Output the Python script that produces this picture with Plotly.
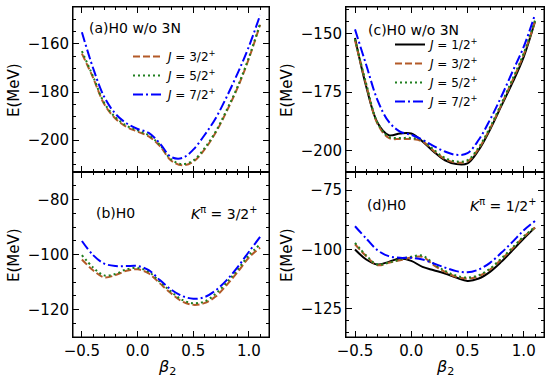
import plotly.graph_objects as go

beta = [-0.5, -0.4, -0.3, -0.2, -0.1, 0.0, 0.1, 0.2, 0.3, 0.4, 0.5, 0.6, 0.7, 0.8, 0.9, 1.0, 1.1]

# (a) H0 w/o 3N, K=3/2+
a_J32 = [-164, -174, -185, -191, -194.5, -196.5, -198.5, -202.5, -208.5, -210.5, -209, -204, -197, -188, -178, -166, -152]
a_J52 = [-163, -173.5, -184.5, -190.5, -194, -196, -198, -202, -208, -210, -208.5, -203.5, -196.5, -187.5, -177.5, -165.5, -151.5]
a_J72 = [-155.1, -170, -182, -189, -193, -195.4, -197, -201.4, -207, -207.5, -204, -198, -191, -182, -172, -161, -148]

# (b) H0, K=3/2+
b_J32 = [-101.8, -105.7, -108.3, -107.5, -105.9, -105.4, -106.9, -110.5, -114.1, -117.1, -118.3, -117.7, -115.3, -111.1, -106.3, -101.1, -97.5]
b_J52 = [-100.2, -104.7, -107.6, -107.1, -105.4, -104.9, -106.3, -109.9, -113.5, -116.5, -117.7, -117.1, -114.3, -110.2, -105.4, -100.2, -96.3]
b_J72 = [-95.1, -100.2, -103.3, -104.2, -104.2, -104.2, -105.7, -109.3, -112.7, -115.1, -116.1, -115.5, -113.1, -109.3, -104.5, -99.0, -93.6]

# (c) H0 w/o 3N, K=1/2+
c_J12 = [-152, -172.7, -188, -193.3, -192.6, -192.6, -196, -200.4, -204, -205.6, -205.3, -199.6, -191, -181, -171, -160, -145]
c_J32 = [-153, -172, -188.5, -194.5, -195, -195, -196, -200, -203.5, -205, -204.5, -199, -190.5, -180.5, -170, -159, -145]
c_J52 = [-152.5, -171.5, -188, -194, -194.5, -194.5, -195.5, -199.5, -203, -204.5, -204, -198.5, -190, -180, -169.5, -158.5, -144.5]
c_J72 = [-148.3, -163.5, -178.4, -187.6, -191.8, -193.2, -195.3, -198, -200.3, -201.7, -201, -195.3, -186.8, -177, -166.3, -155.7, -142]

# (d) H0, K=1/2+
d_J12 = [-100, -104.2, -106.3, -105.2, -103.8, -104.8, -107.3, -108.7, -110.1, -111.8, -113.2, -112.2, -109.4, -105.2, -100.3, -95.4, -90.8]
d_J32 = [-97.8, -102.8, -106.6, -105.6, -104.5, -103.4, -103.1, -106.6, -109.4, -111.5, -112.2, -111.2, -108.4, -104.2, -99.6, -94.7, -90.8]
d_J52 = [-97.2, -102.5, -106.3, -105.5, -104.2, -103.0, -102.6, -106.0, -109.0, -111.0, -111.8, -110.8, -108.0, -103.8, -99.2, -94.5, -90.5]
d_J72 = [-90.2, -95.4, -100.3, -102.8, -103.5, -103.5, -104.2, -105.9, -107.6, -109.1, -109.6, -108.4, -105.6, -101.4, -96.8, -91.9, -88.0]

labels = {"12": "<i>J</i> = 1/2<sup>+</sup>", "32": "<i>J</i> = 3/2<sup>+</sup>",
          "52": "<i>J</i> = 5/2<sup>+</sup>", "72": "<i>J</i> = 7/2<sup>+</sup>"}
styles = {"12": dict(color="black", dash="solid"),
          "32": dict(color="#b35a28", dash="7px,3px"),
          "52": dict(color="#1f7f1f", dash="2px,3px"),
          "72": dict(color="#0000ff", dash="10px,3px,2px,3px")}

FONT = "DejaVu Sans"
fig = go.Figure()

def add(y, key, xa, ya, legend=None):
    fig.add_trace(go.Scatter(
        x=beta, y=y, mode="lines", name=labels[key],
        line=dict(width=2, shape="spline", **styles[key]),
        xaxis=xa, yaxis=ya, showlegend=legend is not None,
        legend=legend if legend else "legend"))

add(a_J32, "32", "x", "y", "legend")
add(a_J52, "52", "x", "y", "legend")
add(a_J72, "72", "x", "y", "legend")
add(b_J32, "32", "x2", "y2")
add(b_J52, "52", "x2", "y2")
add(b_J72, "72", "x2", "y2")
add(c_J12, "12", "x3", "y3", "legend2")
add(c_J32, "32", "x3", "y3", "legend2")
add(c_J52, "52", "x3", "y3", "legend2")
add(c_J72, "72", "x3", "y3", "legend2")
add(d_J12, "12", "x4", "y4")
add(d_J32, "32", "x4", "y4")
add(d_J52, "52", "x4", "y4")
add(d_J72, "72", "x4", "y4")

W, H = 550, 385
def px(x): return x / W
def py(y): return 1 - y / H

xl = [px(73), px(269)]
xr = [px(346), px(544)]
ytop = [py(172), py(7)]
ybot = [py(337), py(172)]
XR = [-0.58, 1.18]

def common():
    return dict(automargin=False, tick0=0,
                ticks="inside", ticklen=6, tickwidth=1, tickcolor="black",
                showline=True, linecolor="black", linewidth=1, mirror="allticks",
                showgrid=False, zeroline=False,
                tickfont=dict(family=FONT, size=15, color="black"))

def xaxis(domain, anchor, labels_on):
    return dict(domain=domain, anchor=anchor, range=XR,
                dtick=0.5, tickformat=".1f", showticklabels=labels_on,
                minor=dict(dtick=0.1, tick0=0, ticks="inside", ticklen=3, tickwidth=1, tickcolor="black"),
                **common())

def yaxis(domain, anchor, rng, dt):
    return dict(domain=domain, anchor=anchor, range=rng, dtick=dt,
                minor=dict(dtick=5, tick0=0, ticks="inside", ticklen=3, tickwidth=1, tickcolor="black"),
                **common())

def ann(text, x, y, xanchor="left", size=14, angle=0):
    return dict(text=text, x=px(x), y=py(y), xref="paper", yref="paper",
                xanchor=xanchor, yanchor="middle", showarrow=False, textangle=angle,
                font=dict(family=FONT, size=size, color="black"))

annotations = [
    ann("(a)H0 w/o 3N", 87, 28),
    ann("(b)H0", 94, 213),
    ann("<i>K</i><sup>π</sup> = 3/2<sup>+</sup>", 259, 213, "right"),
    ann("(c)H0 w/o 3N", 366, 30),
    ann("(d)H0", 365, 205),
    ann("<i>K</i><sup>π</sup> = 1/2<sup>+</sup>", 538, 205, "right"),
    ann("E(MeV)", 14, 90, "center", 15, -90),
    ann("E(MeV)", 14, 255, "center", 15, -90),
    ann("E(MeV)", 287, 90, "center", 15, -90),
    ann("E(MeV)", 287, 255, "center", 15, -90),
    ann("<i>β</i><sub>2</sub>", 167, 367, "center", 16),
    ann("<i>β</i><sub>2</sub>", 445, 367, "center", 16),
]

# panel frames (paper coordinates, matching the subplot domains)
frames = []
for xd in (xl, xr):
    for yd in (ytop, ybot):
        frames.append(dict(type="rect", xref="paper", yref="paper",
                           x0=xd[0], x1=xd[1], y0=yd[0], y1=yd[1],
                           line=dict(color="black", width=1),
                           fillcolor="rgba(0,0,0,0)", layer="above"))

leg_common = dict(bgcolor="rgba(0,0,0,0)", borderwidth=0, xanchor="left", yanchor="top",
                  font=dict(family=FONT, size=12, color="black"), tracegroupgap=0,
                  itemwidth=30)

fig.update_layout(
    template="none",
    width=W, height=H, margin=dict(l=0, r=0, t=0, b=0, autoexpand=False),
    paper_bgcolor="white", plot_bgcolor="white",
    xaxis=xaxis(xl, "y", False), yaxis=yaxis(ytop, "x", [-213.3, -144.6], 20),
    xaxis2=xaxis(xl, "y2", True), yaxis2=yaxis(ybot, "x2", [-130, -70], 20),
    xaxis3=xaxis(xr, "y3", False), yaxis3=yaxis(ytop, "x3", [-209, -138.8], 25),
    xaxis4=xaxis(xr, "y4", True), yaxis4=yaxis(ybot, "x4", [-136.8, -67.4], 25),
    legend=dict(x=px(128), y=py(42), **leg_common),
    legend2=dict(x=px(390), y=py(30), **leg_common),
    annotations=annotations,
    shapes=frames,
    showlegend=True,
)

fig.write_html("out.html", config={"displayModeBar": False},
               post_script="document.body.style.margin='0';document.body.style.overflow='hidden';")
